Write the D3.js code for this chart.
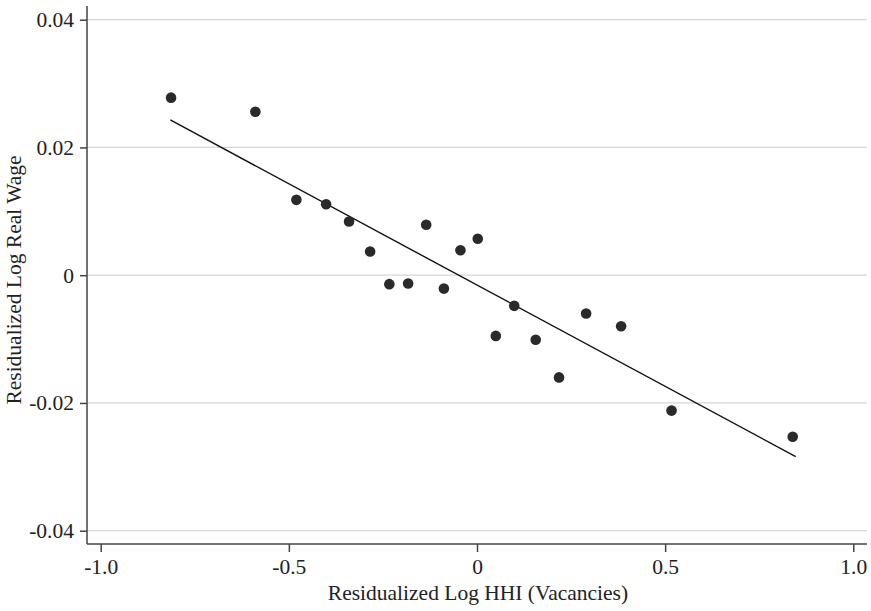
<!DOCTYPE html>
<html>
<head>
<meta charset="utf-8">
<script src="https://cdn.jsdelivr.net/npm/d3@7"></script>
<style>
  body { margin: 0; background: #fff; }
  text { font-family: "Liberation Serif", "Times New Roman", serif; fill: #222; }
</style>
</head>
<body>
<div id="main"></div>
<script>
const ctx = {
  WIDTH: 871,
  HEIGHT: 611
};

// residualized log HHI (vacancies), binned
const hhiX = [-0.813, -0.589, -0.480, -0.401, -0.340, -0.284, -0.233, -0.183, -0.135, -0.088,
              -0.044, 0.002, 0.050, 0.099, 0.156, 0.218, 0.290, 0.383, 0.517, 0.839];
// residualized log real wage
const wageY = [0.0278, 0.0256, 0.0118, 0.0111, 0.0084, 0.0037, -0.0014, -0.0013, 0.0079, -0.0021,
               0.0039, 0.0057, -0.0095, -0.0048, -0.0101, -0.0160, -0.0060, -0.0080, -0.0212, -0.0253];
// fitted line endpoints
const fitX = [-0.815, 0.847];
const fitY = [0.0243, -0.0284];

const xTicks = [-1.0, -0.5, 0, 0.5, 1.0];
const xTickLabels = ["-1.0", "-0.5", "0", "0.5", "1.0"];
const yTicks = [0.04, 0.02, 0, -0.02, -0.04];
const yTickLabels = ["0.04", "0.02", "0", "-0.02", "-0.04"];

function createViz() {
  const svg = d3.select("#main").append("svg")
      .attr("width", ctx.WIDTH)
      .attr("height", ctx.HEIGHT);

  const left = 87, right = 867, top = 6, bottom = 544;
  const fontSize = "21.5px";

  const x = d3.scaleLinear().domain([-1, 1]).range([100.7, 853.3]);
  const y = d3.scaleLinear().domain([-0.04, 0.04]).range([530.7, 19.7]);

  // gridlines
  svg.append("g").selectAll("line")
      .data(yTicks)
      .enter().append("line")
      .attr("x1", left).attr("x2", right)
      .attr("y1", d => y(d)).attr("y2", d => y(d))
      .attr("stroke", "#d6d6d6")
      .attr("stroke-width", 1.2);

  // y axis
  const yAxis = d3.axisLeft(y).tickValues(yTicks)
      .tickFormat((d, i) => yTickLabels[i]).tickSize(7).tickPadding(6);
  const gy = svg.append("g").attr("transform", `translate(${left},0)`).call(yAxis)
      .attr("font-family", null).attr("font-size", null);
  gy.select(".domain").remove();
  gy.append("line").attr("x1", 0).attr("x2", 0).attr("y1", top).attr("y2", bottom)
      .attr("stroke", "#444").attr("stroke-width", 1.5);

  // x axis
  const xAxis = d3.axisBottom(x).tickValues(xTicks)
      .tickFormat((d, i) => xTickLabels[i]).tickSize(8).tickPadding(7);
  const gx = svg.append("g").attr("transform", `translate(0,${bottom})`).call(xAxis)
      .attr("font-family", null).attr("font-size", null);
  gx.select(".domain").remove();
  gx.append("line").attr("x1", left).attr("x2", right).attr("y1", 0).attr("y2", 0)
      .attr("stroke", "#444").attr("stroke-width", 1.5);

  svg.selectAll(".tick line").attr("stroke", "#444").attr("stroke-width", 1.5);
  svg.selectAll(".tick text")
      .style("font-size", fontSize)
      .attr("fill", "#222");

  // fitted line
  svg.append("line")
      .attr("x1", x(fitX[0])).attr("y1", y(fitY[0]))
      .attr("x2", x(fitX[1])).attr("y2", y(fitY[1]))
      .attr("stroke", "#111")
      .attr("stroke-width", 1.4);

  // points
  svg.append("g").selectAll("circle")
      .data(hhiX.map((v, i) => ({x: v, y: wageY[i]})))
      .enter().append("circle")
      .attr("cx", d => x(d.x))
      .attr("cy", d => y(d.y))
      .attr("r", 5.3)
      .attr("fill", "#2a2a2a");

  // axis titles
  svg.append("text")
      .attr("x", 478)
      .attr("y", 600)
      .attr("text-anchor", "middle")
      .style("font-size", fontSize)
      .text("Residualized Log HHI (Vacancies)");

  svg.append("text")
      .attr("transform", "translate(21,280) rotate(-90)")
      .attr("text-anchor", "middle")
      .style("font-size", fontSize)
      .text("Residualized Log Real Wage");
}

createViz();
</script>
</body>
</html>
